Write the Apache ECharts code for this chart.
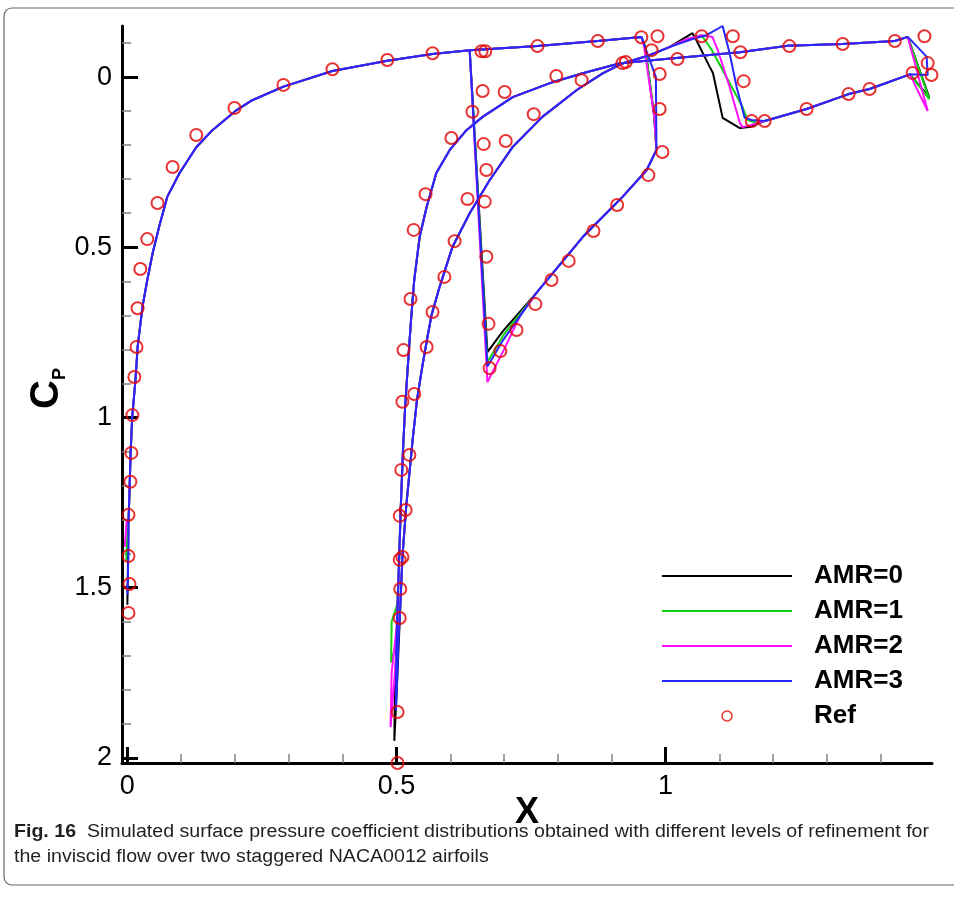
<!DOCTYPE html>
<html><head><meta charset="utf-8">
<script src="https://cdn.jsdelivr.net/npm/echarts@6/dist/echarts.min.js"></script>
<style>html,body{margin:0;padding:0;background:#fff}#c{width:954px;height:898px}</style>
</head><body><div id="c"></div>
<script>
// ---------------- Tick values / labels ----------------
const xMajorTicks = [0, 0.5, 1];
const xMinorTicks = [0.1,0.2,0.3,0.4,0.6,0.7,0.8,0.9,1.1,1.2,1.3,1.4];
const yMajorTicks = [0, 0.5, 1, 1.5, 2];
const yMinorTicks = [-0.1,0.1,0.2,0.3,0.4,0.6,0.7,0.8,0.9,1.1,1.2,1.3,1.4,1.6,1.7,1.8,1.9];
const legendNames = ['AMR=0','AMR=1','AMR=2','AMR=3','Ref'];

// ---------------- Front airfoil (x 0..1) ----------------
const foil1Nose = [[0.002,1.31],[0.004,1.213],[0.006,1.104],[0.009,0.998],[0.015,0.89],[0.019,0.793],[0.028,0.675],[0.037,0.596],[0.047,0.517],[0.059,0.44],[0.074,0.352],[0.097,0.282],[0.128,0.206],[0.158,0.156],[0.203,0.097],[0.232,0.068],[0.29,0.028],[0.381,-0.018],[0.483,-0.048],[0.567,-0.068],[0.636,-0.079]];
const foil1Diag = [[0.760,0.634],[0.846,0.47],[0.920,0.352],[0.965,0.273],[0.983,0.214]];
const foil1Aft = [[0.955,-0.118],[0.874,-0.106],[0.762,-0.091],[0.636,-0.079]];

const amr0Tip1 = [[0.000,1.55],[0.001,1.44]];
const amr1Tip1 = [[-0.002,1.42],[0.001,1.30]];
const amr2Tip1 = [[-0.005,1.38],[-0.001,1.30]];
const amr3Tip1 = [[0.000,1.52],[0.002,1.40]];

const amr0Shock1 = [[0.669,0.808],[0.697,0.748]];
const amr1Shock1 = [[0.669,0.837],[0.700,0.755]];
const amr2Shock1 = [[0.669,0.896],[0.700,0.800],[0.730,0.700]];
const amr3Shock1 = [[0.669,0.850],[0.697,0.775]];

const amr0Te1 = [[0.979,0.118],[0.962,-0.09]];
const amr1Te1 = [[0.979,0.118],[0.962,-0.09]];
const amr2Te1 = [[0.979,0.118],[0.960,-0.09]];
const amr3Te1 = [[0.982,0.000]];

// ---------------- Rear airfoil (x 0.5..1.5) ----------------
const foil2Upper = [[1.450,-0.118],[1.426,-0.106],[1.329,-0.097],[1.227,-0.092],[1.138,-0.073],[1.020,-0.056],[0.950,-0.046],[0.914,-0.040],[0.846,-0.011],[0.790,0.015],[0.716,0.059],[0.660,0.117],[0.630,0.156],[0.599,0.214],[0.574,0.282],[0.556,0.382],[0.543,0.470],[0.533,0.596],[0.527,0.714],[0.521,0.850],[0.516,0.970],[0.512,1.100],[0.508,1.263],[0.504,1.460]];
const foil2Lower = [[0.507,1.556],[0.511,1.410],[0.518,1.263],[0.530,1.066],[0.538,0.950],[0.548,0.850],[0.558,0.760],[0.565,0.700],[0.580,0.617],[0.604,0.499],[0.636,0.400],[0.673,0.303],[0.716,0.205],[0.771,0.117],[0.835,0.038],[0.883,-0.011],[0.920,-0.040],[0.970,-0.064],[1.007,-0.088]];
const foil2Recovery = [[1.184,0.129],[1.262,0.094],[1.340,0.050],[1.379,0.035],[1.454,-0.008]];

const amr0Tip2 = [[0.500,1.66],[0.497,1.80],[0.496,1.95],[0.499,1.85],[0.502,1.75]];
const amr1Tip2 = [[0.501,1.55],[0.491,1.60],[0.490,1.72],[0.500,1.66]];
const amr2Tip2 = [[0.500,1.62],[0.491,1.75],[0.489,1.91],[0.497,1.75],[0.502,1.65]];
const amr3Tip2 = [[0.500,1.66],[0.499,1.86],[0.501,1.78],[0.503,1.68]];

const amr0Shock2 = [[1.050,-0.129],[1.057,-0.109],[1.082,-0.030],[1.088,-0.012],[1.106,0.120],[1.138,0.150],[1.156,0.147]];
const amr1Shock2 = [[1.040,-0.112],[1.067,-0.123],[1.086,-0.079],[1.113,0.000],[1.143,0.088],[1.152,0.126],[1.170,0.135]];
const amr2Shock2 = [[1.040,-0.112],[1.067,-0.123],[1.087,-0.118],[1.097,-0.079],[1.119,0.029],[1.138,0.135],[1.143,0.147],[1.156,0.142]];
const amr3Shock2 = [[1.050,-0.112],[1.076,-0.123],[1.106,-0.150],[1.119,-0.070],[1.132,0.029],[1.147,0.120],[1.160,0.126]];

const amr0Te2 = [[1.490,0.060],[1.450,-0.118]];
const amr1Te2 = [[1.490,0.065],[1.450,-0.118]];
const amr2Te2 = [[1.487,0.100],[1.450,-0.118]];
const amr3Te2 = [[1.487,-0.006],[1.485,-0.060],[1.450,-0.118]];

// ---------------- Reference data (circles) ----------------
const refPoints = [
 [0.002,1.574],[0.004,1.489],[0.002,1.407],[0.002,1.286],[0.0056,1.189],[0.0074,1.104],[0.0093,0.993],[0.013,0.881],[0.017,0.793],[0.019,0.679],[0.024,0.564],[0.037,0.476],[0.056,0.370],[0.084,0.264],[0.128,0.170],[0.199,0.091],[0.290,0.023],[0.381,-0.023],[0.483,-0.050],[0.567,-0.070],[0.658,-0.076],[0.665,-0.076],[0.762,-0.091],[0.874,-0.106],[0.955,-0.117],[0.985,-0.120],[0.974,-0.079],[0.989,-0.009],[0.989,0.094],[0.994,0.220],[0.968,0.288],[0.910,0.376],[0.866,0.452],[0.820,0.540],[0.788,0.596],[0.758,0.667],[0.723,0.743],[0.693,0.805],[0.673,0.855],[0.671,0.725],[0.667,0.528],[0.667,0.273],[0.662,0.197],[0.660,0.041],[0.641,0.102],
 [0.701,0.044],[0.703,0.188],[0.797,-0.003],[0.844,0.009],[0.755,0.109],[0.602,0.179],[0.554,0.344],[0.632,0.358],[0.664,0.366],[0.532,0.449],[0.608,0.482],[0.589,0.587],[0.526,0.652],[0.567,0.690],[0.513,0.802],[0.556,0.793],[0.511,0.954],[0.533,0.931],[0.524,1.110],[0.509,1.154],[0.517,1.272],[0.506,1.289],[0.511,1.410],[0.506,1.418],[0.507,1.504],[0.506,1.589],[0.502,1.865],[0.502,2.015],
 [0.920,-0.041],[0.926,-0.044],[1.022,-0.053],[1.067,-0.120],[1.125,-0.120],[1.139,-0.073],[1.145,0.012],[1.230,-0.091],[1.329,-0.097],[1.426,-0.106],[1.481,-0.120],[1.487,-0.041],[1.494,-0.006],[1.459,-0.012],[1.379,0.035],[1.340,0.050],[1.262,0.094],[1.184,0.129],[1.160,0.129]
];

// ---------------- Build paths ----------------
function foil1(tip, shock, te){ return [].concat(tip, foil1Nose, shock, foil1Diag, te, foil1Aft); }
function foil2(tip, shock, te){ return [].concat(foil2Upper, tip, foil2Lower, shock, foil2Recovery, te); }
const levels = [
  {name:'AMR=0', color:'#000000', f1:foil1(amr0Tip1,amr0Shock1,amr0Te1), f2:foil2(amr0Tip2,amr0Shock2,amr0Te2)},
  {name:'AMR=1', color:'#12d212', f1:foil1(amr1Tip1,amr1Shock1,amr1Te1), f2:foil2(amr1Tip2,amr1Shock2,amr1Te2)},
  {name:'AMR=2', color:'#ff10ff', f1:foil1(amr2Tip1,amr2Shock1,amr2Te1), f2:foil2(amr2Tip2,amr2Shock2,amr2Te2)},
  {name:'AMR=3', color:'#2626ff', f1:foil1(amr3Tip1,amr3Shock1,amr3Te1), f2:foil2(amr3Tip2,amr3Shock2,amr3Te2)}
];

const FONT = '"Liberation Sans", Arial, Helvetica, sans-serif';
const RED = '#e30000';
const series = [];
levels.forEach((L,i)=>{
  [L.f1, L.f2].forEach(d=>{
    series.push({name:L.name, type:'line', data:d, symbol:'none', showSymbol:false,
      lineStyle:{color:L.color, width:2}, itemStyle:{color:L.color}, z:2+i*0.1, animation:false});
  });
});
series.push({name:'Ref', type:'scatter', data:refPoints, symbol:'circle', symbolSize:12,
  itemStyle:{color:'rgba(0,0,0,0)', borderColor:RED, borderWidth:2}, z:5, animation:false});

const cap1a = 'Fig. 16';
const cap1b = '  Simulated surface pressure coefficient distributions obtained with different levels of refinement for';
const cap2 = 'the inviscid flow over two staggered NACA0012 airfoils';
const cv = document.createElement('canvas').getContext('2d');
cv.font = 'bold 18px ' + FONT; const wA = cv.measureText(cap1a).width;
cv.font = '18px ' + FONT; const wB = cv.measureText(cap1b).width;
const capScale = (929 - 14) / (wA + wB);

const legendData = legendNames.map(n => n === 'Ref'
  ? {name:n, itemStyle:{color:'rgba(0,0,0,0)', borderColor:RED, borderWidth:1.5}}
  : {name:n, itemStyle:{opacity:0}});

const chart = echarts.init(document.getElementById('c'), null, {renderer:'canvas'});
chart.setOption({
  backgroundColor:'#fff',
  animation:false,
  grid:{left:122, top:26, right:22, bottom:135, containLabel:false},
  xAxis:[
    {type:'value', min:-0.01, max:1.495, position:'bottom',
     axisLine:{onZero:false, lineStyle:{color:'#000', width:3}},
     axisTick:{inside:true, length:16, customValues:xMajorTicks, lineStyle:{color:'#000', width:3}},
     axisLabel:{customValues:xMajorTicks, formatter:v=>String(v), fontSize:27, color:'#000', margin:10, fontFamily:FONT},
     splitLine:{show:false},
     name:'X', nameLocation:'middle', nameGap:32, nameMoveOverlap:false,
     nameTextStyle:{fontSize:36, fontWeight:'bold', color:'#000', fontFamily:FONT}},
    {type:'value', min:-0.01, max:1.495, position:'bottom',
     axisLine:{show:false, onZero:false},
     axisTick:{inside:true, length:9, customValues:xMinorTicks, lineStyle:{color:'#808080', width:1.5}},
     axisLabel:{show:false}, splitLine:{show:false}}
  ],
  yAxis:[
    {type:'value', inverse:true, min:-0.15, max:2.015, position:'left',
     axisLine:{onZero:false, lineStyle:{color:'#000', width:3}},
     axisTick:{inside:true, length:16, customValues:yMajorTicks, lineStyle:{color:'#000', width:3}},
     axisLabel:{customValues:yMajorTicks, formatter:v=>String(v), fontSize:27, color:'#000', margin:10, fontFamily:FONT},
     splitLine:{show:false},
     name:'{c|C}{p|P}', nameLocation:'middle', nameRotate:90, nameGap:53, nameMoveOverlap:false,
     nameTextStyle:{rich:{
       c:{fontSize:40, fontWeight:'bold', color:'#000', fontFamily:FONT, lineHeight:44, padding:[0,0,0,12]},
       p:{fontSize:18, fontWeight:'bold', color:'#000', fontFamily:FONT, verticalAlign:'bottom', lineHeight:44}}}},
    {type:'value', inverse:true, min:-0.15, max:2.015, position:'left',
     axisLine:{show:false, onZero:false},
     axisTick:{inside:true, length:9, customValues:yMinorTicks, lineStyle:{color:'#808080', width:1.5}},
     axisLabel:{show:false}, splitLine:{show:false}}
  ],
  legend:{orient:'vertical', left:656, top:556, itemWidth:130, itemHeight:10, itemGap:5,
    data:legendData, selectedMode:false,
    textStyle:{fontSize:26, fontWeight:'bold', color:'#000', fontFamily:FONT, lineHeight:30, padding:[0,0,0,17]}},
  graphic:[
    {type:'rect', shape:{x:4, y:8, width:1000, height:877, r:8}, style:{fill:'none', stroke:'#666', lineWidth:1.2}, silent:true, z:-10},
    {type:'text', x:14, y:832, scaleX:capScale, scaleY:1, silent:true,
     style:{text:'{b|'+cap1a+'}'+cap1b, fontSize:18, fontFamily:FONT, fill:'#231f20', verticalAlign:'middle',
       rich:{b:{fontWeight:'bold', fontSize:18, fontFamily:FONT, fill:'#231f20'}}}},
    {type:'text', x:14, y:857, scaleX:capScale, scaleY:1, silent:true,
     style:{text:cap2, fontSize:18, fontFamily:FONT, fill:'#231f20', verticalAlign:'middle'}}
  ],
  series:series
});
</script></body></html>
